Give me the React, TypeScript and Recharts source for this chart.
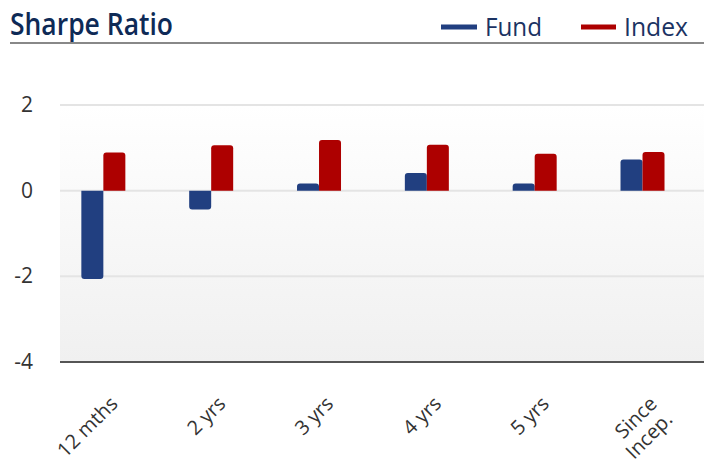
import React from "react";
import { BarChart, Bar, XAxis, YAxis, CartesianGrid } from "recharts";

const categories = ["12 mths", "2 yrs", "3 yrs", "4 yrs", "5 yrs", "Since\nIncep."];
const fundValues = [-2.06, -0.44, 0.17, 0.41, 0.17, 0.73];
const indexValues = [0.89, 1.06, 1.18, 1.07, 0.86, 0.9];
const yTicks = [-4, -2, 0, 2];

const FUND = "#213f80";
const INDEX = "#ad0000";
const FONT = "'Open Sans', 'Noto Sans', sans-serif";

const data = categories.map((name, i) => ({
  name,
  fund: fundValues[i],
  index: indexValues[i],
}));

// rotated category labels, anchored at their end like the original
const XTick = ({ x, y, payload }: any) => {
  const lines = String(payload.value).split("\n");
  return (
    <g transform={`translate(${x + 16},${y + 41}) rotate(-45)`}>
      <text textAnchor="end" fill="#333" fontSize={20} fontFamily={FONT}>
        {lines.map((l, i) => (
          <tspan key={i} x={0} dy={i === 0 ? 0 : 22}>
            {l}
          </tspan>
        ))}
      </text>
    </g>
  );
};

const YTick = ({ y, payload }: any) => (
  <text x={33} y={y} dy={7} textAnchor="end" fill="#333" fontSize={21} fontFamily={FONT}>
    {payload.value}
  </text>
);

export default function App() {
  return (
    <div style={{ position: "absolute", left: 0, top: 0, width: 704, height: 459, background: "#fff" }}>
      {/* Header: title + legend */}
      <svg width={704} height={50} style={{ position: "absolute", left: 0, top: 0 }}>
        <text
          x={10}
          y={35}
          fontSize={30}
          fontWeight={600}
          fontFamily={FONT}
          fill="#0e2a56"
          textLength={163}
          lengthAdjust="spacingAndGlyphs"
        >
          Sharpe Ratio
        </text>
        <line x1={10} x2={704} y1={43} y2={43} stroke="#888" strokeWidth={2} />
        <line x1={441} x2={477} y1={27} y2={27} stroke={FUND} strokeWidth={5} />
        <text x={485} y={36} fontSize={26} fontFamily={FONT} fill="#1b3363" textLength={57} lengthAdjust="spacingAndGlyphs">
          Fund
        </text>
        <line x1={581} x2={616} y1={27} y2={27} stroke={INDEX} strokeWidth={5} />
        <text x={624} y={36} fontSize={26} fontFamily={FONT} fill="#1b3363" textLength={64} lengthAdjust="spacingAndGlyphs">
          Index
        </text>
      </svg>

      <BarChart
        width={704}
        height={459}
        data={data}
        margin={{ top: 105, right: 0, left: 0, bottom: 0 }}
        barCategoryGap="30%"
        barGap={0}
      >
        <defs>
          <linearGradient id="plotBg" x1="0" y1="0" x2="0" y2="1">
            <stop offset="0%" stopColor="#ffffff" />
            <stop offset="100%" stopColor="#f0f0f0" />
          </linearGradient>
        </defs>
        <CartesianGrid
          vertical={false}
          stroke="#e4e4e4"
          strokeWidth={2}
          fill="url(#plotBg)"
          fillOpacity={1}
        />
        <YAxis
          width={60}
          domain={[-4, 2]}
          ticks={yTicks}
          axisLine={false}
          tickLine={false}
          tick={<YTick />}
        />
        <XAxis
          dataKey="name"
          height={97}
          padding={{ left: -11, right: 8 }}
          axisLine={{ stroke: "#555", strokeWidth: 2 }}
          tickLine={false}
          tickSize={0}
          interval={0}
          tick={<XTick />}
        />
        <Bar dataKey="fund" fill={FUND} radius={[3, 3, 0, 0]} isAnimationActive={false} />
        <Bar dataKey="index" fill={INDEX} radius={[3, 3, 0, 0]} isAnimationActive={false} />
      </BarChart>
    </div>
  );
}
